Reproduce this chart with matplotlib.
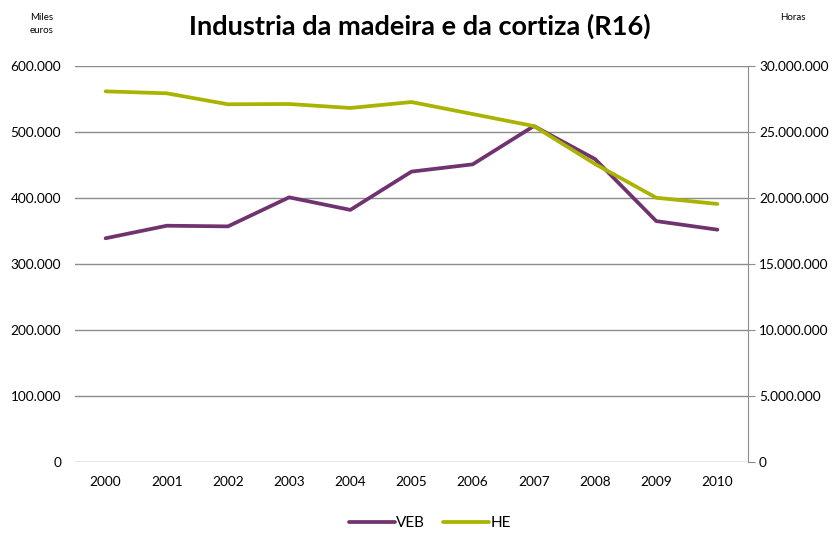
import matplotlib
matplotlib.use("Agg")
import matplotlib.pyplot as plt
from matplotlib.ticker import FuncFormatter

plt.rcParams['font.family'] = ['Lato', 'DejaVu Sans']

years = ['2000', '2001', '2002', '2003', '2004', '2005', '2006', '2007', '2008', '2009', '2010']
veb = [339000, 358000, 357000, 401000, 382000, 440000, 451000, 509000, 459000, 365000, 352000]
he = [28080000, 27930000, 27100000, 27120000, 26820000, 27270000, 26360000, 25450000, 22580000, 20020000, 19550000]

purple = '#71336F'
green = '#A8B400'
grid_col = '#8C8C8C'


def dots(v, pos):
    return f'{int(v):,}'.replace(',', '.')


fig = plt.figure(figsize=(8.39, 5.34), dpi=100)
ax = fig.add_axes([75 / 839, 1 - 462 / 534, (748 - 75) / 839, (462 - 66) / 534])
ax2 = ax.twinx()

x = list(range(len(years)))
l1, = ax.plot(x, veb, color=purple, lw=2.7, solid_capstyle='round', zorder=3)
l2, = ax2.plot(x, he, color=green, lw=2.7, solid_capstyle='round', zorder=3)

ax.set_xlim(-0.5, 10.5)
ax.set_ylim(0, 600000)
ax2.set_ylim(0, 30000000)
ax.set_yticks(range(0, 600001, 100000))
ax2.set_yticks(range(0, 30000001, 5000000))
ax.yaxis.set_major_formatter(FuncFormatter(dots))
ax2.yaxis.set_major_formatter(FuncFormatter(dots))
ax.set_xticks(x)
ax.set_xticklabels(years)

ax.grid(axis='y', color=grid_col, lw=1)
ax.set_axisbelow(True)
for a in (ax, ax2):
    for s in ('top', 'left', 'bottom'):
        a.spines[s].set_visible(False)
    a.spines['right'].set_color(grid_col)
ax.spines['right'].set_visible(False)
ax2.spines['right'].set_visible(True)

ax.tick_params(axis='y', length=0, labelsize=9.8, pad=10)
ax.tick_params(axis='x', length=0, labelsize=9.8, pad=10)
ax2.tick_params(axis='y', length=5, color=grid_col, labelsize=9.8, pad=3)

fig.text(0.5, 1 - 26 / 534, 'Industria da madeira e da cortiza (R16)', ha='center', va='center',
         fontsize=19.5, fontweight='bold')
fig.text(42 / 839, 1 - 24 / 534, 'Miles\neuros', ha='center', va='center', fontsize=7, linespacing=1.6)
fig.text(793 / 839, 1 - 18 / 534, 'Horas', ha='center', va='center', fontsize=7)

fig.legend([l1, l2], ['VEB', 'HE'], loc='center', bbox_to_anchor=(430 / 839, 1 - 523 / 534), ncol=2,
           frameon=False, fontsize=11, handlelength=3.0, handletextpad=0.1, columnspacing=1.2)

fig.savefig('out.png', dpi=100)
